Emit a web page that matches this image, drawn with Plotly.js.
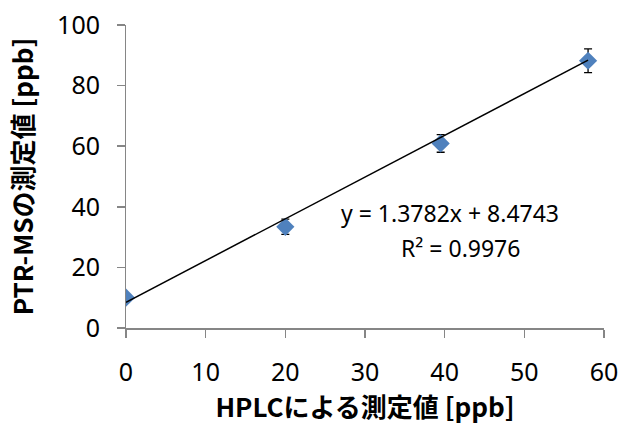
<!DOCTYPE html>
<html>
<head>
<meta charset="utf-8">
<script src="https://cdn.plot.ly/plotly-3.0.1.min.js"></script>
<style>
  html, body { margin: 0; padding: 0; background: #fff; }
  #chart { width: 629px; height: 425px; }
</style>
</head>
<body>
<div id="chart"></div>
<script>
// HPLC vs PTR-MS measured concentrations (ppb)
const hplc = [0, 20, 39.5, 58];
const ptrms = [10, 33.4, 60.9, 88.2];
const ptrmsErr = [1.2, 2.5, 2.9, 3.9];

// Linear fit reported on the chart
const slope = 1.3782;
const intercept = 8.4743;
const r2 = 0.9976;

const xTicks = [0, 10, 20, 30, 40, 50, 60];
const yTicks = [0, 20, 40, 60, 80, 100];
const yRange = [0, 100];

const fitX = [Math.min(...hplc), Math.max(...hplc)];
const fitY = fitX.map(x => slope * x + intercept);

const numFont = { family: 'Noto Sans, Liberation Sans, sans-serif', size: 25, color: '#000' };
const noteFont = { family: 'Noto Sans, Liberation Sans, sans-serif', size: 23, color: '#000' };
const titleFont = { family: 'Noto Sans CJK JP, Noto Sans, sans-serif', size: 26, color: '#000', weight: 'bold' };

const traces = [
  {
    x: hplc, y: ptrms, type: 'scatter', mode: 'markers',
    marker: { symbol: 'diamond', size: 14, color: '#4F81BD' },
    error_y: { type: 'data', array: ptrmsErr, visible: true, color: '#000', thickness: 1.3, width: 4 },
    hoverinfo: 'x+y'
  },
  {
    x: fitX, y: fitY, type: 'scatter', mode: 'lines',
    line: { color: '#000', width: 1.5 },
    hoverinfo: 'skip'
  },
  // empty trace that carries the labelled value axis
  { x: [], y: [], yaxis: 'y2', type: 'scatter', mode: 'markers', hoverinfo: 'skip' }
];

const layout = {
  width: 629, height: 425,
  margin: { l: 100, r: 25, t: 25, b: 97 },
  paper_bgcolor: '#fff', plot_bgcolor: '#fff',
  showlegend: false,
  xaxis: {
    domain: [26 / 504, 1],
    range: [0, 60], tickvals: xTicks, ticktext: xTicks.map(String),
    showgrid: false, zeroline: false,
    showline: true, linecolor: '#868686', linewidth: 1.5,
    ticks: 'outside', ticklen: 8, tickcolor: '#868686', tickwidth: 1.5,
    ticklabelstandoff: 13,
    tickfont: numFont,
    title: { text: 'HPLCによる測定値 [ppb]', font: titleFont, standoff: 3 }
  },
  // axis line and tick marks at the plot edge
  yaxis: {
    range: yRange, tickvals: yTicks,
    showgrid: false, zeroline: false, showticklabels: false,
    showline: true, linecolor: '#868686', linewidth: 1.5,
    ticks: 'outside', ticklen: 8, tickcolor: '#868686', tickwidth: 1.5
  },
  // value labels and title, set a little further out
  yaxis2: {
    overlaying: 'y', anchor: 'free', position: 0, side: 'left',
    range: yRange, tickvals: yTicks, ticktext: yTicks.map(String),
    showgrid: false, zeroline: false, showline: false, ticks: '',
    tickfont: numFont,
    title: { text: 'PTR-MSの測定値 [ppb]', font: titleFont, standoff: 14 }
  },
  annotations: [
    {
      x: 40.7, y: 38.0, xref: 'x', yref: 'y', showarrow: false,
      text: 'y = ' + slope.toFixed(4) + 'x + ' + intercept.toFixed(4),
      font: noteFont, xanchor: 'center', yanchor: 'middle'
    },
    {
      x: 42.0, y: 26.5, xref: 'x', yref: 'y', showarrow: false,
      text: 'R² = ' + r2.toFixed(4),
      font: noteFont, xanchor: 'center', yanchor: 'middle'
    }
  ]
};

Plotly.newPlot('chart', traces, layout, { displayModeBar: false, staticPlot: true });
</script>
</body>
</html>
